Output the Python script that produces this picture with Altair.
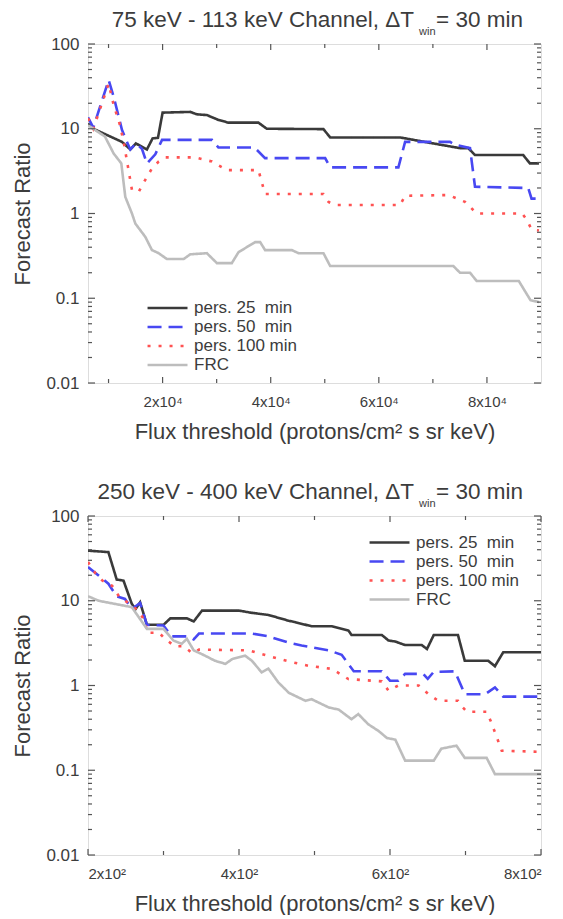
import altair as alt
import pandas as pd

FONT = "Liberation Sans"

SERIES = ["pers. 25\u00a0\u00a0min", "pers. 50\u00a0\u00a0min", "pers. 100 min", "FRC"]
COLORS = ["#3a3a3a", "#4848f2", "#ff5252", "#bdbdbd"]
DASHES = [[1, 0], [14, 7], [3, 8], [1, 0]]
WIDTHS = [2.6, 2.6, 2.6, 1.6]

# ---------------- top panel: 75 keV - 113 keV ----------------
top_p25_x = [6200, 7180, 12480, 14030, 15070, 17100, 18150, 19140, 20000, 25120, 26340, 28190,
             30330, 32180, 37730, 39270, 49750, 51000, 63930, 69000, 75020, 76550, 77790, 86700,
             87950, 89620]
top_p25_y = [11.5, 10, 7.0, 5.7, 6.7, 5.7, 7.7, 7.8, 15.5, 15.8, 14.8, 14.5,
             12.7, 11.8, 11.8, 10.0, 9.9, 7.9, 7.9, 6.9, 5.9, 5.9, 4.9, 4.9,
             3.9, 3.9]
top_p50_x = [6200, 7180, 10020, 10950, 12480, 13410, 14030, 15070, 16180, 17100, 18650, 19900,
             29130, 30330, 37000, 38950, 50070, 51000, 63620, 64860, 73160, 74100, 76870, 77790,
             87640, 88250, 89620]
top_p50_y = [13.6, 10.3, 37.6, 23.9, 9.7, 7.0, 5.7, 6.7, 5.8, 3.9, 5.0, 7.4,
             7.4, 6.0, 6.0, 4.5, 4.5, 3.5, 3.5, 7.0, 7.0, 6.5, 5.9, 2.07,
             2.0, 1.5, 1.5]
top_p100_x = [6200, 7180, 10020, 10950, 12020, 12800, 14330, 15570, 16800, 18030, 19270, 20500,
              26050, 29130, 30330, 31890, 37730, 38950, 49750, 50700, 51900, 63930, 64860, 72860,
              75950, 78110, 86510, 87380, 88250, 89620]
top_p100_y = [13.3, 10, 34, 19, 11.6, 7.0, 1.9, 1.8, 2.5, 3.4, 4.1, 4.6,
              4.6, 4.1, 3.7, 3.25, 3.25, 1.7, 1.7, 1.37, 1.26, 1.26, 1.62, 1.65,
              1.37, 1.0, 1.0, 0.84, 0.65, 0.63]
top_frc_x = [6200, 7180, 9330, 10950, 12360, 13100, 14330, 14960, 16800, 18030, 19270, 20800,
             23890, 25120, 28190, 30040, 32810, 34050, 37130, 38050, 38960, 43900, 45140, 49760,
             51000, 73780, 75020, 76870, 78100, 85890, 88050, 89620]
top_frc_y = [11, 10, 8.1, 5.1, 3.9, 1.57, 1.0, 0.76, 0.53, 0.37, 0.34, 0.29,
             0.29, 0.33, 0.34, 0.26, 0.26, 0.35, 0.46, 0.46, 0.37, 0.37, 0.34, 0.34,
             0.24, 0.24, 0.20, 0.20, 0.16, 0.16, 0.095, 0.09]

# ---------------- bottom panel: 250 keV - 400 keV ----------------
bot_p25_x = [200, 227, 238, 247, 258, 263, 269, 278, 300, 309, 331, 340, 351, 400, 417, 439,
             466, 474, 496, 523, 545, 549, 589, 598, 607, 620, 642, 649, 658, 690, 699, 730,
             739, 750, 800]
bot_p25_y = [39, 37.5, 17.8, 17.3, 9.2, 8.0, 9.6, 5.2, 5.2, 6.2, 6.2, 5.7, 7.65, 7.65, 7.2, 6.8,
             5.8, 5.6, 5.0, 5.0, 4.45, 3.95, 3.95, 3.4, 3.3, 3.0, 3.0, 2.7, 3.95, 3.95, 1.96, 1.96,
             1.69, 2.47, 2.47]
bot_p50_x = [200, 214, 227, 238, 249, 258, 269, 278, 300, 311, 333, 340, 347, 417, 439, 466,
             483, 519, 536, 552, 589, 600, 611, 620, 644, 650, 658, 686, 699, 726, 739, 750, 800]
bot_p50_y = [25, 19.9, 15.9, 11.3, 10.5, 8.0, 9.4, 5.2, 5.1, 3.8, 3.8, 3.5, 4.1, 4.1, 3.8, 3.2,
             2.97, 2.6, 2.3, 1.47, 1.47, 1.14, 1.14, 1.37, 1.37, 1.2, 1.45, 1.47, 0.79, 0.79, 0.95,
             0.74, 0.74]
bot_p100_x = [200, 210, 219, 232, 241, 252, 267, 276, 278, 294, 302, 315, 327, 338, 347, 413,
              426, 466, 492, 523, 545, 589, 598, 611, 638, 651, 664, 690, 694, 702, 728, 734,
              748, 800]
bot_p100_y = [28.6, 21, 17.3, 15, 11.3, 9.6, 7.6, 5.6, 4.2, 4.2, 3.55, 2.9, 2.9, 2.4, 2.65, 2.6,
              2.4, 1.92, 1.71, 1.57, 1.19, 1.12, 0.87, 1.0, 1.0, 0.79, 0.66, 0.66, 0.58, 0.49, 0.49,
              0.37, 0.17, 0.165]
bot_frc_x = [200, 214, 258, 278, 300, 313, 324, 331, 340, 355, 368, 382, 391, 408, 417, 430,
             439, 452, 466, 488, 496, 519, 532, 549, 558, 571, 585, 596, 607, 620, 658, 668,
             688, 699, 728, 739, 800]
bot_frc_y = [11.3, 10, 8.4, 4.66, 4.66, 3.4, 3.1, 3.55, 2.6, 2.25, 1.96, 1.8, 2.05, 2.25, 1.96, 1.43,
             1.58, 1.09, 0.82, 0.66, 0.69, 0.55, 0.52, 0.40, 0.46, 0.35, 0.29, 0.24, 0.23, 0.13, 0.13,
             0.18, 0.195, 0.14, 0.14, 0.09, 0.09]

# axis tick values
Y_MAJOR = [0.01, 0.1, 1, 10, 100]
Y_MINOR = [k * 10.0 ** e for e in (-2, -1, 0, 1) for k in range(2, 10)]
TOP_X_MAJOR = [20000, 40000, 60000, 80000]
TOP_X_MINOR = [10000, 30000, 50000, 70000]
BOT_X_MAJOR = [200, 400, 600, 800]
BOT_X_MINOR = [300, 500, 700]

W, H = 453, 339
AXIS_COLOR = "#555555"
TEXT_COLOR = "#3c3c3c"


def series_df(xs_list, ys_list):
    rows = []
    for name, xs, ys in zip(SERIES, xs_list, ys_list):
        for i, (x, y) in enumerate(zip(xs, ys)):
            rows.append({"series": name, "x": x, "y": y, "order": i})
    return pd.DataFrame(rows)


def panel(df, xdom, xmajor, xminor, label_expr, title_main, legend_x, legend_y):
    xscale = alt.Scale(domain=xdom, nice=False, zero=False)
    yscale = alt.Scale(type="log", domain=[0.01, 100], nice=False)
    xaxis = alt.Axis(
        values=xmajor, labelExpr=label_expr, ticks=False, tickSize=0, domain=False,
        grid=False, labelFont=FONT, labelFontSize=15, labelColor=TEXT_COLOR,
        labelPadding=11, title="Flux threshold (protons/cm\u00b2 s sr keV)",
        titleFont=FONT, titleFontSize=22, titleFontWeight="normal",
        titleColor=TEXT_COLOR, titlePadding=12)
    yaxis = alt.Axis(
        values=Y_MAJOR, format="~g", ticks=False, tickSize=0, domain=False, grid=False,
        labelFont=FONT, labelFontSize=17, labelColor=TEXT_COLOR, labelPadding=9,
        title="Forecast Ratio", titleFont=FONT, titleFontSize=22,
        titleFontWeight="normal", titleColor=TEXT_COLOR, titlePadding=11)
    legend = alt.Legend(
        title=None, orient="none", legendX=legend_x, legendY=legend_y,
        symbolType="M-3.44,0L1,0", symbolSize=324, labelFont=FONT, labelFontSize=17,
        labelColor=TEXT_COLOR, labelOffset=5, rowPadding=0, padding=0,
    )
    lines = alt.Chart(df).mark_line(clip=True).encode(
        x=alt.X("x:Q", scale=xscale, axis=xaxis),
        y=alt.Y("y:Q", scale=yscale, axis=yaxis),
        color=alt.Color("series:N", scale=alt.Scale(domain=SERIES, range=COLORS), legend=legend),
        strokeDash=alt.StrokeDash("series:N", scale=alt.Scale(domain=SERIES, range=DASHES), legend=legend),
        strokeWidth=alt.StrokeWidth("series:N", scale=alt.Scale(domain=SERIES, range=WIDTHS), legend=legend),
        order="order:Q",
    )

    ydf_major = pd.DataFrame({"v": Y_MAJOR})
    ydf_minor = pd.DataFrame({"v": Y_MINOR})
    xdf_major = pd.DataFrame({"v": xmajor})
    xdf_minor = pd.DataFrame({"v": xminor})
    tick = dict(color=AXIS_COLOR, strokeWidth=1.2)
    rule = lambda d: alt.Chart(d).mark_rule(**tick)
    ticks = []
    for d, ln in ((ydf_major, 7), (ydf_minor, 4)):
        yenc = alt.Y("v:Q", scale=yscale, axis=yaxis)
        ticks.append(rule(d).encode(y=yenc, x=alt.value(0), x2=alt.value(ln)))
        ticks.append(rule(d).encode(y=yenc, x=alt.value(W), x2=alt.value(W - ln)))
    for d, ln in ((xdf_major, 6), (xdf_minor, 4)):
        xenc = alt.X("v:Q", scale=xscale, axis=xaxis)
        ticks.append(rule(d).encode(x=xenc, y=alt.value(H), y2=alt.value(H - ln)))
        ticks.append(rule(d).encode(x=xenc, y=alt.value(0), y2=alt.value(ln)))

    tdf = pd.DataFrame({"a": [title_main], "b": ["win"], "c": ["= 30 min"]})
    tb = alt.Chart(tdf)
    xr = 326
    titles = [
        tb.mark_text(align="right", baseline="alphabetic", font=FONT, fontSize=22.5,
                     color=TEXT_COLOR).encode(text="a:N", x=alt.value(xr), y=alt.value(-17.5)),
        tb.mark_text(align="left", baseline="alphabetic", font=FONT, fontSize=11,
                     color=TEXT_COLOR).encode(text="b:N", x=alt.value(xr + 5), y=alt.value(-9)),
        tb.mark_text(align="left", baseline="alphabetic", font=FONT, fontSize=22.5,
                     color=TEXT_COLOR).encode(text="c:N", x=alt.value(xr + 22), y=alt.value(-17.5)),
    ]
    return alt.layer(lines, *ticks, *titles).properties(width=W, height=H)


top_df = series_df([top_p25_x, top_p50_x, top_p100_x, top_frc_x],
                   [top_p25_y, top_p50_y, top_p100_y, top_frc_y])
bot_df = series_df([bot_p25_x, bot_p50_x, bot_p100_x, bot_frc_x],
                   [bot_p25_y, bot_p50_y, bot_p100_y, bot_frc_y])

top = panel(top_df, [6200, 90000], TOP_X_MAJOR, TOP_X_MINOR,
            "(datum.value / 10000) + 'x10\u2074'",
            "75 keV - 113 keV Channel, \u0394T", 80, 253.5)
bottom = panel(bot_df, [200, 800], BOT_X_MAJOR, BOT_X_MINOR,
               "(datum.value / 100) + 'x10\u00b2'",
               "250 keV - 400 keV Channel, \u0394T", 302, 16)

chart = alt.vconcat(top, bottom, spacing=37).resolve_scale(
    x="independent", y="independent", color="independent",
    strokeDash="independent", strokeWidth="independent",
).resolve_legend(
    color="independent", strokeDash="independent", strokeWidth="independent",
).properties(
    padding={"left": 3, "top": 0, "right": 0, "bottom": 0},
).configure_view(
    stroke=AXIS_COLOR, strokeWidth=2,
).configure(font=FONT, background="white")

chart.save("out.html", embed_options={"renderer": "svg", "actions": False})
